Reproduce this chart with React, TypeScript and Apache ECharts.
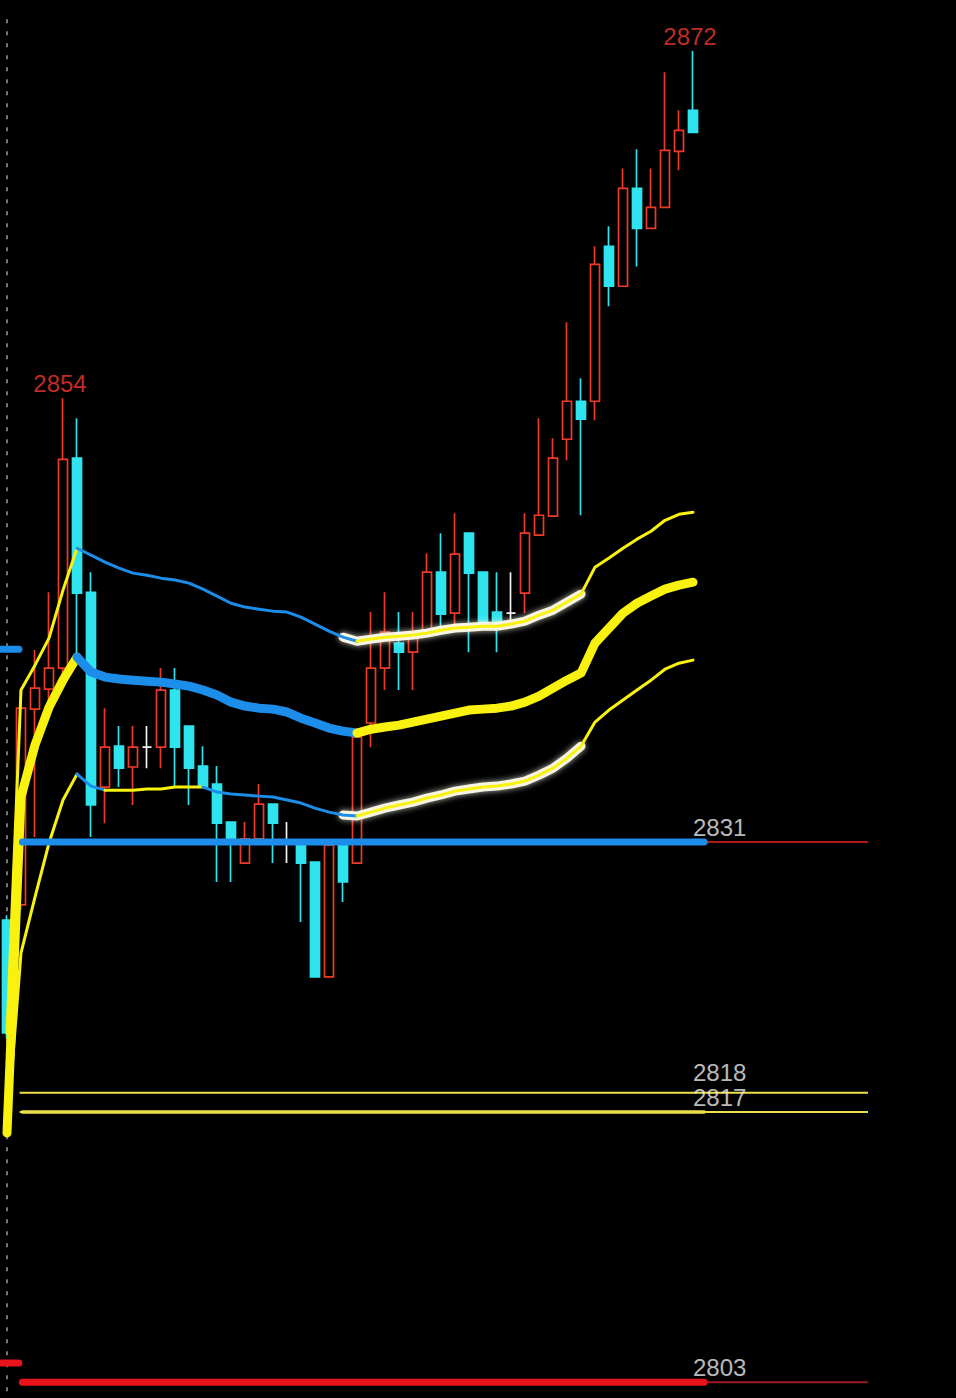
import React, { useEffect, useRef } from "react";
import * as echarts from "echarts";

// Intraday bars: open / close / low / high
const OPEN = [
  2826.96, 2827.74, 2837.89, 2838.93, 2840.02, 2850.9, 2843.95, 2833.85, 2835.97, 2834.89,
  2835.92, 2835.92, 2838.88, 2837.01, 2834.94, 2834.01, 2832.04, 2829.91, 2831.16, 2832.97,
  2831.0, 2830.84, 2829.96, 2824.01, 2830.84, 2829.91, 2837.17, 2840.02, 2841.31, 2840.84,
  2841.98, 2844.99, 2842.87, 2847.01, 2844.99, 2842.92, 2842.87, 2843.9, 2846.91, 2847.89,
  2851.88, 2853.85, 2853.85, 2861.88, 2859.81, 2864.89, 2862.81, 2863.9, 2866.8, 2868.93,
];
const CLOSE = [
  2821.1, 2837.94, 2838.98, 2840.02, 2850.84, 2843.9, 2832.92, 2835.92, 2834.83, 2835.92,
  2835.92, 2838.88, 2835.92, 2834.83, 2833.85, 2831.98, 2831.16, 2831.16, 2832.97, 2831.98,
  2831.0, 2829.91, 2824.01, 2830.84, 2828.93, 2836.44, 2840.02, 2841.88, 2840.84, 2841.88,
  2844.99, 2842.81, 2845.92, 2844.94, 2842.4, 2842.4, 2842.87, 2847.01, 2847.94, 2850.9,
  2853.85, 2852.92, 2860.95, 2859.81, 2864.89, 2862.81, 2863.9, 2866.85, 2867.89, 2867.79,
];
const LOW = [
  2820.8, 2827.48, 2831.26, 2837.84, 2839.24, 2840.69, 2831.26, 2831.98, 2833.85, 2832.92,
  2834.83, 2834.83, 2833.85, 2832.92, 2833.8, 2828.93, 2828.93, 2829.88, 2831.12, 2829.91,
  2829.91, 2826.85, 2823.98, 2823.98, 2827.89, 2829.88, 2835.92, 2838.88, 2838.88, 2838.88,
  2841.95, 2841.98, 2841.98, 2840.84, 2842.24, 2840.84, 2842.35, 2842.87, 2846.88, 2847.86,
  2850.79, 2847.94, 2852.87, 2858.77, 2859.78, 2860.84, 2862.78, 2863.87, 2865.82, 2867.76,
];
const HIGH = [
  2827.2, 2838.88, 2840.95, 2843.95, 2854.0, 2852.97, 2844.99, 2837.94, 2837.01, 2837.01,
  2837.01, 2840.02, 2840.02, 2837.05, 2835.97, 2834.94, 2832.08, 2832.04, 2834.01, 2833.0,
  2832.04, 2831.0, 2830.0, 2831.0, 2831.0, 2836.65, 2842.92, 2843.95, 2842.92, 2842.92,
  2845.97, 2847.01, 2848.05, 2847.05, 2845.02, 2844.99, 2844.99, 2848.05, 2852.97, 2851.93,
  2857.94, 2855.04, 2861.88, 2862.92, 2865.92, 2866.91, 2865.92, 2870.9, 2868.93, 2872.0,
];

// Channel: middle line and its upper / lower bands
const MID = [
  2815.92, 2833.33, 2836.03, 2837.99, 2839.39, 2840.59, 2839.81, 2839.55, 2839.45, 2839.39,
  2839.34, 2839.29, 2839.19, 2839.08, 2838.88, 2838.62, 2838.25, 2838.05, 2837.94, 2837.89,
  2837.74, 2837.42, 2837.17, 2836.91, 2836.75, 2836.65, 2836.85, 2836.96, 2837.06, 2837.22,
  2837.37, 2837.53, 2837.68, 2837.84, 2837.89, 2837.94, 2838.05, 2838.25, 2838.56, 2838.98,
  2839.39, 2839.76, 2841.31, 2842.09, 2842.87, 2843.38, 2843.75, 2844.11, 2844.32, 2844.47,
];
const UPPER = [
  2821.1, 2838.88, 2840.17, 2841.57, 2844.06, 2846.23, 2845.87, 2845.51, 2845.2, 2844.94,
  2844.83, 2844.68, 2844.58, 2844.42, 2844.11, 2843.75, 2843.38, 2843.18, 2843.07, 2842.97,
  2842.92, 2842.66, 2842.3, 2841.93, 2841.62, 2841.41, 2841.52, 2841.62, 2841.67, 2841.73,
  2841.83, 2841.98, 2842.09, 2842.14, 2842.19, 2842.19, 2842.3, 2842.45, 2842.76, 2843.02,
  2843.44, 2843.85, 2845.25, 2845.72, 2846.23, 2846.7, 2847.11, 2847.68, 2847.99, 2848.1,
];
const LOWER = [
  2815.92, 2825.25, 2828.15, 2830.95, 2833.18, 2834.52, 2833.9, 2833.69, 2833.69, 2833.69,
  2833.75, 2833.75, 2833.85, 2833.85, 2833.85, 2833.59, 2833.49, 2833.44, 2833.38, 2833.33,
  2833.18, 2833.02, 2832.76, 2832.55, 2832.4, 2832.35, 2832.55, 2832.76, 2832.92, 2833.07,
  2833.28, 2833.44, 2833.64, 2833.75, 2833.85, 2833.9, 2834.01, 2834.16, 2834.47, 2834.83,
  2835.35, 2835.97, 2837.22, 2837.84, 2838.36, 2838.88, 2839.39, 2839.96, 2840.27, 2840.43,
];

const PEAK_INDEX = [4, 49];
const LEVELS = [2831, 2818, 2817, 2803];
const EDGE_MARKS = [2841, 2804];
const HIGHLIGHT_FROM = 24;
const HIGHLIGHT_TO = 41;

// ---- layout / style ----
const W = 956;
const H = 1398;
const SLOTS = 68;
const SLOT_PX = 14;
const Y_MIN = 2802.18;
const Y_MAX = 2874.65;

const RED = "#ee3a26";
const CYAN = "#2fe4ee";
const BLUE = "#1c8de9";
const YELLOW = "#f8f20e";
const PALE_YELLOW = "#ece04a";
const LABEL_GREY = "#ececec";
const FONT = "'Liberation Sans', Arial, sans-serif";

const LEVEL_STYLE = [
  { thick: BLUE, thickWidth: 7, thin: "#b0161c", thinWidth: 2, gap: 6 },
  { thick: null, thickWidth: 0, thin: PALE_YELLOW, thinWidth: 2, gap: 11 },
  { thick: PALE_YELLOW, thickWidth: 3.5, thin: PALE_YELLOW, thinWidth: 2, gap: 6 },
  { thick: "#e8131b", thickWidth: 7, thin: "#9e1a22", thinWidth: 2, gap: 6 },
];
const THIN_FROM = 1.4;
const THIN_TO = 62;
const THICK_FROM = 1.6;
const THICK_TO = 50.3;
const LABEL_AT = 49.5;

type Run = { from: number; to: number; rising: boolean };

function slopeRuns(values: number[]): Run[] {
  const runs: Run[] = [];
  for (let j = 0; j < values.length - 1; j++) {
    const rising = values[j + 1] >= values[j];
    const last = runs[runs.length - 1];
    if (last && last.rising === rising && last.to === j) last.to = j + 1;
    else runs.push({ from: j, to: j + 1, rising });
  }
  return runs;
}

function slice(values: number[], from: number, to: number) {
  return values.map((v, i) => (i >= from && i <= to ? v : "-"));
}

function channelSeries(values: number[], width: number, z: number) {
  return slopeRuns(values).map((r) => ({
    type: "line",
    xAxisIndex: 0,
    yAxisIndex: 0,
    data: slice(values, r.from, r.to),
    symbol: "none",
    silent: true,
    z,
    lineStyle: {
      color: r.rising ? YELLOW : BLUE,
      width,
      cap: "round",
      join: "round",
    },
  }));
}

function highlightSeries(values: number[]) {
  return {
    type: "line",
    xAxisIndex: 0,
    yAxisIndex: 0,
    data: slice(values, HIGHLIGHT_FROM, HIGHLIGHT_TO),
    symbol: "none",
    silent: true,
    z: 3,
    lineStyle: {
      color: "#fffbe8",
      width: 9,
      opacity: 0.95,
      cap: "round",
      join: "round",
      shadowBlur: 6,
      shadowColor: "rgba(255,255,240,0.75)",
    },
  };
}

function buildOption() {
  const categories = Array.from({ length: SLOTS }, (_, i) => String(i));
  const candles = OPEN.map((o, i) => [o, CLOSE[i], LOW[i], HIGH[i]]);

  const series: any[] = [];

  // day divider
  series.push({
    type: "line",
    xAxisIndex: 1,
    yAxisIndex: 0,
    data: [
      [0.5, Y_MAX - 1],
      [0.5, Y_MIN],
    ],
    symbol: "none",
    silent: true,
    z: 1,
    lineStyle: { color: "#9a9a9a", width: 1.5, type: [4, 8] },
  });

  series.push({
    type: "candlestick",
    xAxisIndex: 0,
    yAxisIndex: 0,
    data: candles,
    barWidth: 9,
    z: 2,
    silent: true,
    itemStyle: {
      color: "#000000",
      color0: CYAN,
      borderColor: RED,
      borderColor0: CYAN,
      borderColorDoji: "#f2f2f2",
      borderWidth: 1.7,
    },
  });

  series.push(highlightSeries(UPPER));
  series.push(highlightSeries(LOWER));
  series.push(...channelSeries(UPPER, 3, 4));
  series.push(...channelSeries(LOWER, 3, 4));
  series.push(...channelSeries(MID, 9, 4));

  // horizontal price levels
  LEVELS.forEach((lv, k) => {
    const st = LEVEL_STYLE[k];
    series.push({
      type: "line",
      xAxisIndex: 1,
      yAxisIndex: 0,
      data: [
        [THIN_FROM, lv],
        [THIN_TO, lv],
      ],
      symbol: "none",
      silent: true,
      z: 5,
      lineStyle: { color: st.thin, width: st.thinWidth },
    });
    if (st.thick) {
      series.push({
        type: "line",
        xAxisIndex: 1,
        yAxisIndex: 0,
        data: [
          [THICK_FROM, lv],
          [THICK_TO, lv],
        ],
        symbol: "none",
        silent: true,
        z: 6,
        lineStyle: { color: st.thick, width: st.thickWidth, cap: "round" },
      });
    }
  });

  // short marks on the left edge
  EDGE_MARKS.forEach((lv, k) => {
    series.push({
      type: "line",
      xAxisIndex: 1,
      yAxisIndex: 0,
      data: [
        [-0.3, lv],
        [1.35, lv],
      ],
      symbol: "none",
      silent: true,
      z: 6,
      lineStyle: { color: k === 0 ? BLUE : "#e8131b", width: 7, cap: "round" },
    });
  });

  // level labels
  series.push({
    type: "scatter",
    xAxisIndex: 1,
    yAxisIndex: 0,
    data: LEVELS.map((lv, k) => ({
      value: [LABEL_AT, lv],
      label: { distance: LEVEL_STYLE[k].gap },
    })),
    symbolSize: 0,
    silent: true,
    z: 8,
    label: {
      show: true,
      position: "top",
      align: "left",
      distance: 6,
      lineHeight: 18,
      color: LABEL_GREY,
      fontSize: 24,
      fontFamily: FONT,
      formatter: (p: any) => String(p.value[1]),
    },
  });

  // peak labels
  series.push({
    type: "scatter",
    xAxisIndex: 0,
    yAxisIndex: 0,
    data: PEAK_INDEX.map((i) => [i, HIGH[i]]),
    symbolSize: 0,
    silent: true,
    z: 8,
    label: {
      show: true,
      position: "top",
      distance: 3,
      offset: [-3, 0],
      color: "#f23a30",
      fontSize: 24,
      fontFamily: FONT,
      formatter: (p: any) => String(Math.round(p.value[1])),
    },
  });

  return {
    animation: false,
    backgroundColor: "#000000",
    grid: { left: 0, right: W - SLOTS * SLOT_PX, top: 0, bottom: 0, containLabel: false },
    xAxis: [
      { type: "category", data: categories, boundaryGap: true, show: false },
      { type: "value", min: 0, max: SLOTS, show: false },
    ],
    yAxis: [{ type: "value", min: Y_MIN, max: Y_MAX, show: false, scale: true }],
    series,
  };
}

export default function App() {
  const ref = useRef<HTMLDivElement>(null);

  useEffect(() => {
    document.body.style.margin = "0";
    document.body.style.background = "#000";
    if (!ref.current) return;
    const chart = echarts.init(ref.current, undefined, { renderer: "svg" });
    chart.setOption(buildOption() as any);
    return () => chart.dispose();
  }, []);

  return (
    <div
      ref={ref}
      style={{ position: "absolute", left: 0, top: 0, width: W, height: H, background: "#000" }}
    />
  );
}
